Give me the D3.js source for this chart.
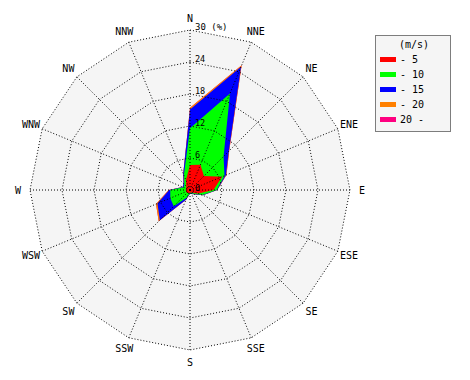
<!DOCTYPE html>
<html><head><meta charset="utf-8">
<script src="https://cdn.jsdelivr.net/npm/d3@7"></script>
<style>
body{margin:0;background:#fff;}
text{font-family:"DejaVu Sans Mono",monospace;fill:#000;}
</style></head>
<body><svg id="c" width="470" height="380"></svg>
<script>
const directions = ["N","NNE","NE","ENE","E","ESE","SE","SSE","S","SSW","SW","WSW","W","WNW","NW","NNW"];
const speedBins = ["- 5","- 10","- 15","- 20","20 -"];
const binColors = ["#ff0000","#00ff00","#0000ff","#ff8000","#ff0080"];
const radialTicks = [0,6,12,18,24,30];
// frequency (%) per direction for each speed bin
const bin0_5   = [4.7,5.1,3.7,6.5,4.4,1.7,0.8,0.5,0.5,0.6,0.8,0.8,0.8,0.8,1.0,2.0];
const bin5_10  = [6.9,14.5,5.2,0.5,0.6,0.8,0.2,0.2,0.1,0.9,3.5,3.2,2.9,0.5,0.5,1.0];
const bin10_15 = [3.5,5.4,1.4,0.3,0.1,0.1,0.1,0.1,0.1,0.5,3.7,2.6,0.2,0.2,0.2,0.3];
const bin15_20 = [0.3,0.3,0.1,0.1,0,0,0,0,0,0,0.3,0.3,0.1,0,0,0];
const bin20p   = [0,0,0,0,0,0,0,0,0,0,0,0,0,0,0,0];
const bins = [bin0_5,bin5_10,bin10_15,bin15_20,bin20p];

const svg = d3.select("#c");
const cx = 190, cy = 190;
const r = d3.scaleLinear().domain([0,30]).range([0,160]);
const ang = d3.scaleLinear().domain([0,16]).range([0,2*Math.PI]);
const g = svg.append("g").attr("transform",`translate(${cx},${cy})`);

const ring = d3.lineRadial().angle((d,i)=>ang(i)).radius(d=>r(d)).curve(d3.curveLinearClosed);

// background
g.append("path").attr("d", ring(directions.map(()=>30))).attr("fill","#f5f5f5");

// cumulative layers
const cum = [];
let acc = directions.map(()=>0);
bins.forEach(b=>{ acc = acc.map((v,i)=>v+b[i]); cum.push(acc.slice()); });
for(let k=cum.length-1;k>=0;k--){
  g.append("path").attr("d", ring(cum[k])).attr("fill",binColors[k]).attr("stroke","none");
}

// grid
radialTicks.filter(t=>t>0).forEach(t=>{
  g.append("path").attr("d", ring(directions.map(()=>t)))
   .attr("fill","none").attr("stroke","#000").attr("stroke-dasharray","1,2").attr("stroke-width",1);
});
directions.forEach((d,i)=>{
  const a = ang(i);
  g.append("line").attr("x1",0).attr("y1",0)
   .attr("x2",r(30)*Math.sin(a)).attr("y2",-r(30)*Math.cos(a))
   .attr("stroke","#000").attr("stroke-dasharray","1,2");
});

// radial tick labels
radialTicks.forEach(t=>{
  g.append("text").attr("x",5).attr("y",-r(t)+(t===0?1:0))
   .attr("font-size",t===30?"9px":"8.5px")
   .text(t===30?"30 (%)":t);
});

// direction labels
directions.forEach((d,i)=>{
  const a = ang(i), rr = 172;
  g.append("text").attr("x",rr*Math.sin(a)).attr("y",-rr*Math.cos(a))
   .attr("text-anchor","middle").attr("dominant-baseline","central")
   .attr("font-size","10px").text(d);
});

// legend
const lg = svg.append("g").attr("transform","translate(375,35)");
lg.append("rect").attr("x",0.5).attr("y",0.5).attr("width",75).attr("height",96)
  .attr("fill","#f5f5f5").attr("stroke","#000").attr("stroke-dasharray","1,1");
lg.append("text").attr("x",39).attr("y",9).attr("text-anchor","middle")
  .attr("dominant-baseline","central").attr("font-size","10px").text("(m/s)");
speedBins.forEach((s,i)=>{
  const y = 24.5 + i*15;
  lg.append("rect").attr("x",5).attr("y",y-2.5).attr("width",16).attr("height",5).attr("fill",binColors[i]);
  lg.append("text").attr("x",25).attr("y",y).attr("dominant-baseline","central")
    .attr("font-size","10px").text(s);
});
</script></body></html>
